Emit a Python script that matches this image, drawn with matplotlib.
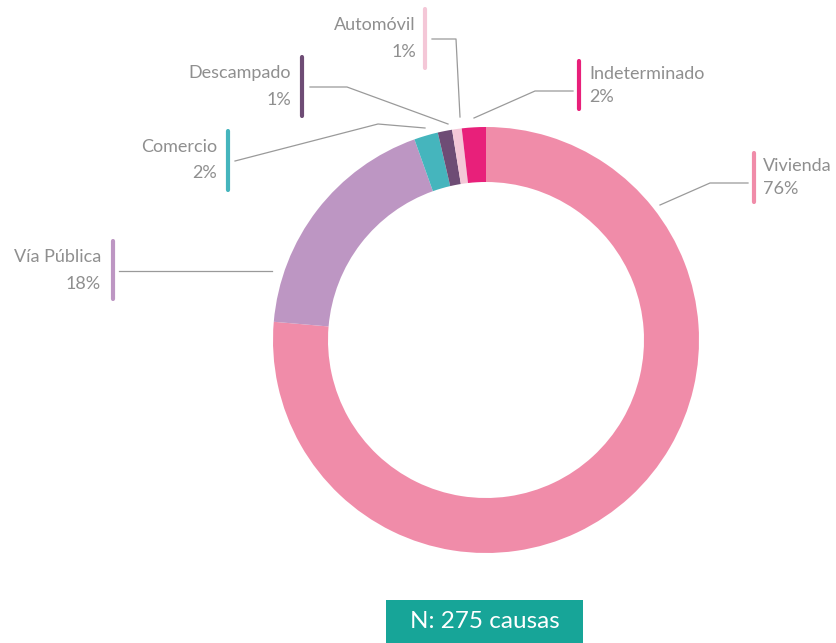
import matplotlib
matplotlib.use("Agg")
import matplotlib.pyplot as plt
from matplotlib.patches import Rectangle

# Datos: causas (N = 275)
categorias = ["Vivienda", "Vía Pública", "Comercio", "Descampado", "Automóvil", "Indeterminado"]
cantidades = [210, 50, 5, 3, 2, 5]
colores = ["#F08CA9", "#BD96C3", "#45B5BD", "#6E4C75", "#F4C7D7", "#E8207A"]
total = sum(cantidades)

W, H = 836, 643
GRIS = "#8f8f8f"


def Y(y):
    # coordenadas de pixel (origen arriba) -> ejes
    return H - y


# Posiciones de las etiquetas: (x texto, alineacion, y linea1, y linea2, x barra, y barra0, y barra1, guia)
layout = {
    "Vivienda": (763, "left", 166, 189, 754, 153, 202, [(748, 183), (710, 183), (660, 205)]),
    "Vía Pública": (101, "right", 257, 284, 113, 241, 299, [(119, 271), (272, 271)]),
    "Comercio": (217, "right", 147, 173, 228, 131, 190, [(235, 161), (378, 124), (425, 128)]),
    "Descampado": (291, "right", 73, 100, 302, 57, 116, [(310, 87), (347, 87), (448, 124)]),
    "Automóvil": (416, "right", 25, 52, 425, 9, 68, [(432, 39), (456, 39), (460, 117)]),
    "Indeterminado": (589, "left", 74, 97, 579, 61, 109, [(573, 91), (535, 91), (474, 118)]),
}

fig = plt.figure(figsize=(W / 100, H / 100), dpi=100)
ax = fig.add_axes([0, 0, 1, 1])

ax.pie(cantidades, colors=colores, startangle=90, counterclock=False,
       radius=213, center=(486, Y(340)),
       wedgeprops=dict(width=55, edgecolor="none"))

for cat, cant, col in zip(categorias, cantidades, colores):
    tx, ha, y1, y2, bx, by0, by1, guia = layout[cat]
    pct = f"{round(100 * cant / total)}%"
    ax.text(tx, Y(y1), cat, ha=ha, va="center", fontsize=13, color=GRIS, family="Lato")
    ax.text(tx, Y(y2), pct, ha=ha, va="center", fontsize=13, color=GRIS, family="Lato")
    ax.plot([bx, bx], [Y(by0), Y(by1)], color=col, lw=3, solid_capstyle="round")
    ax.plot([p[0] for p in guia], [Y(p[1]) for p in guia], color="#9a9a9a", lw=0.9)

# Caja con el total
ax.add_patch(Rectangle((386, Y(643)), 197, 43, facecolor="#17A598", edgecolor="none"))
ax.text(485, Y(622), f"N: {total} causas", ha="center", va="center",
        fontsize=17.5, color="white", family="Lato")

ax.set_xlim(0, W)
ax.set_ylim(0, H)
ax.set_aspect("auto")
ax.set_axis_off()

fig.savefig("out.png", dpi=100, facecolor="white")
